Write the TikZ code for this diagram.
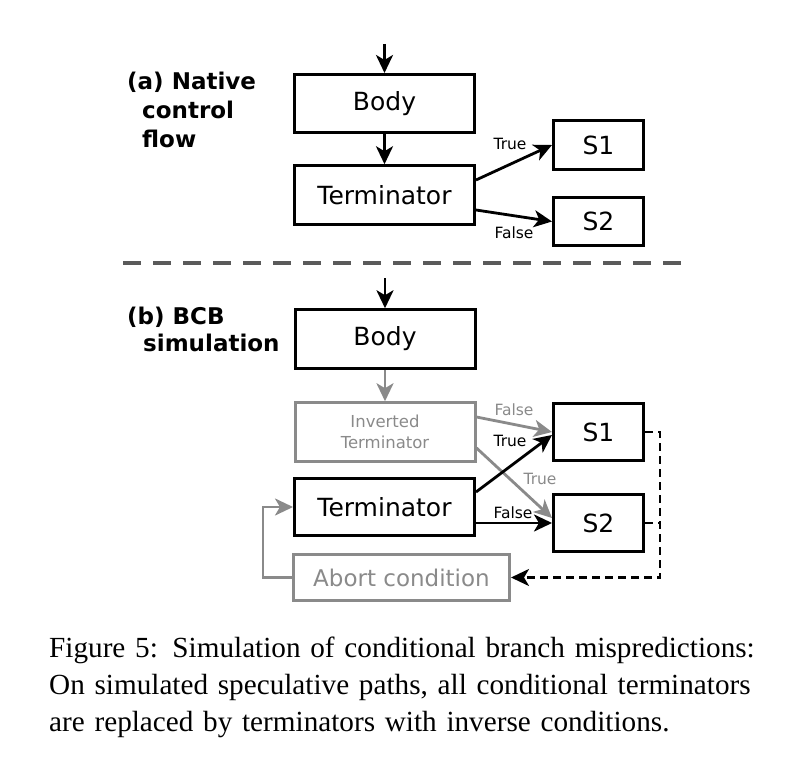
\documentclass[tikz,border=0pt]{standalone}
\usepackage{fontspec}
\setmainfont{Liberation Serif}
\newfontfamily\diagfont{DejaVu Sans}
\usetikzlibrary{arrows.meta,positioning}
\definecolor{fadegray}{HTML}{8A8A8A}
\definecolor{rulegray}{HTML}{5A5A5A}
\begin{document}
\begin{tikzpicture}[x=1pt, y=-1pt,
  block/.style={draw, line width=3pt, inner sep=0pt, minimum width=180pt, minimum height=58.5pt,
    font=\diagfont\fontsize{25}{30}\selectfont},
  sbox/.style={block, minimum width=90pt},
  faded/.style={draw=fadegray, text=fadegray},
  headtip/.style={-{Stealth[length=18pt, width=17pt, inset=5pt]}},
  flow/.style={headtip, line width=2.8pt},
  lbl/.style={inner sep=0pt, font=\diagfont\fontsize{15.5}{18}\selectfont},
  head/.style={inner sep=0pt, align=left, font=\diagfont\bfseries\fontsize{23}{29}\selectfont}]
  \useasboundingbox (0,0) rectangle (808,767);
  % (a) native control flow
  \node[head, anchor=north west] (headA) at (127,72) {(a) Native\\\hspace*{15pt}control\\\hspace*{15pt}flow};
  \coordinate (inA) at (384.5,44);
  \node[block, minimum height=58pt] (bodyA) at (384.5,103.5) {Body};
  \node[block] (termA) at (384.5,195) {Terminator};
  \node[sbox, minimum height=49pt] (s1A) at (598.5,145) {S1};
  \node[sbox, minimum height=48pt] (s2A) at (598.5,221.5) {S2};
  \draw[flow] (inA) -- (bodyA);
  \draw[flow] (bodyA) -- (termA);
  \draw[flow] ([yshift=15pt]termA.east) -- (s1A.west);
  \draw[flow] ([yshift=-15pt]termA.east) -- (s2A.west);
  \node[lbl] (trueA) at (510,144) {True};
  \node[lbl] (falseA) at (514,233) {False};
%
  \draw[rulegray, line width=3.3pt, dash pattern=on 18pt off 12pt] (123,263) -- (692,263);
%
  % (b) BCB simulation
  \node[head, anchor=north west] (headB) at (127,307) {(b) BCB\\[-2pt]\hspace*{16pt}simulation};
  \coordinate (inB) at (385,278);
  \node[block] (bodyB) at (385,339) {Body};
  \node[block, faded, font=\diagfont\fontsize{16.5}{21}\selectfont, align=center] (invB) at (385,432) {Inverted\\Terminator};
  \node[block, minimum height=57pt] (termB) at (384.5,507) {Terminator};
  \node[block, faded, minimum width=216pt, minimum height=46pt, font=\diagfont\fontsize{23}{28}\selectfont] (abortB) at (401.5,577.5) {Abort condition};
  \node[sbox, minimum height=57pt] (s1B) at (598.5,432) {S1};
  \node[sbox, minimum height=57pt] (s2B) at (598.5,523) {S2};
  \draw[flow] (inB) -- (bodyB);
  \draw[flow, fadegray] (bodyB) -- (invB);
  \draw[flow, fadegray] ([yshift=15pt]invB.east) -- (s1B.west);
  \draw[flow, fadegray] ([yshift=-16pt]invB.east) -- ([yshift=5pt]s2B.west);
  \draw[flow] ([yshift=15pt]termB.east) -- ([yshift=-3pt]s1B.west);
  \draw[flow] ([yshift=-16pt]termB.east) -- (s2B.west);
  \node[lbl, text=fadegray] (falseInv) at (514,410) {False};
  \node[lbl] (trueB) at (510,441) {True};
  \node[lbl, text=fadegray] (trueInv) at (540,479) {True};
  \node[lbl] (falseB) at (513,513) {False};
  % abort path
  \coordinate (rail) at (660,432);
  \draw[headtip, line width=2.6pt, dash pattern=on 8pt off 5pt] (s1B.east) -- (rail) |- (abortB.east);
  \draw[line width=2.6pt, dash pattern=on 8pt off 5pt] (s2B.east) -- (s2B.east -| rail);
  \draw[flow, fadegray] (abortB.west) -- ++(-29,0) |- (termB.west);
%
  \node[anchor=north west, inner sep=0pt, text width=719pt, align=left, font=\fontsize{29.2}{37}\selectfont] (caption) at (49,637)
    {\makebox[\linewidth][s]{Figure 5: Simulation of conditional branch mispredictions:}\\
     \makebox[\linewidth][s]{On simulated speculative paths, all conditional terminators}\\
     are replaced by terminators with inverse conditions.};
\end{tikzpicture}
\end{document}
